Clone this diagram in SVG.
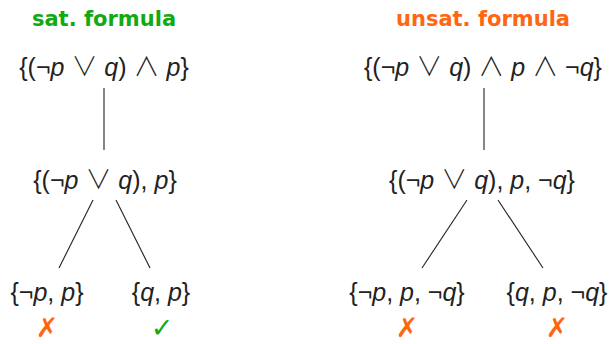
<svg xmlns="http://www.w3.org/2000/svg" width="613" height="344" viewBox="0 0 613 344">
<style>
.t{font-family:"Liberation Sans","DejaVu Sans",sans-serif;font-size:25px;fill:#222;text-anchor:middle}
.v{font-style:italic}
.op{font-family:"Noto Sans CJK SC","DejaVu Sans",sans-serif;font-size:26px;font-weight:300}
.h{font-family:"DejaVu Sans","Liberation Sans",sans-serif;font-size:21px;font-weight:bold;text-anchor:middle}
.g{fill:#11aa11}
.o{fill:#ff6611}
.m{font-family:"DejaVu Sans",sans-serif;font-size:27px;font-weight:bold;text-anchor:middle}
.e{stroke:#222;stroke-width:1.1;fill:none}
</style>
<rect width="613" height="344" fill="#fff"/>
<g id="connectors">
<line class="e" x1="104" y1="88" x2="104" y2="150"/>
<line class="e" x1="93" y1="200" x2="59" y2="268"/>
<line class="e" x1="116" y1="200" x2="150" y2="268"/>
<line class="e" x1="484" y1="88" x2="484" y2="150"/>
<line class="e" x1="467" y1="200" x2="422" y2="268"/>
<line class="e" x1="498" y1="200" x2="543" y2="268"/>
</g>
<g id="title-sat"><text class="h g" x="104" y="26">sat. formula</text></g>
<g id="title-unsat"><text class="h o" x="483" y="26">unsat. formula</text></g>
<g id="n1"><text class="t" x="104" y="76">{(¬<tspan class="v">p</tspan> <tspan class="op">∨</tspan> <tspan class="v">q</tspan>) <tspan class="op">∧</tspan> <tspan class="v">p</tspan>}</text></g>
<g id="n2"><text class="t" x="105" y="189">{(¬<tspan class="v">p</tspan> <tspan class="op">∨</tspan> <tspan class="v">q</tspan>), <tspan class="v">p</tspan>}</text></g>
<g id="n3"><text class="t" x="47" y="301">{¬<tspan class="v">p</tspan>, <tspan class="v">p</tspan>}</text></g>
<g id="n4"><text class="t" x="161" y="301">{<tspan class="v">q</tspan>, <tspan class="v">p</tspan>}</text></g>
<g id="m1"><text class="m o" x="47" y="337">✗</text></g>
<g id="m2"><text class="m g" x="162" y="337">✓</text></g>
<g id="n5"><text class="t" x="483" y="76">{(¬<tspan class="v">p</tspan> <tspan class="op">∨</tspan> <tspan class="v">q</tspan>) <tspan class="op">∧</tspan> <tspan class="v">p</tspan> <tspan class="op">∧</tspan> ¬<tspan class="v">q</tspan>}</text></g>
<g id="n6"><text class="t" x="482" y="189">{(¬<tspan class="v">p</tspan> <tspan class="op">∨</tspan> <tspan class="v">q</tspan>), <tspan class="v">p</tspan>, ¬<tspan class="v">q</tspan>}</text></g>
<g id="n7"><text class="t" x="407" y="301">{¬<tspan class="v">p</tspan>, <tspan class="v">p</tspan>, ¬<tspan class="v">q</tspan>}</text></g>
<g id="n8"><text class="t" x="557" y="301">{<tspan class="v">q</tspan>, <tspan class="v">p</tspan>, ¬<tspan class="v">q</tspan>}</text></g>
<g id="m3"><text class="m o" x="407" y="337">✗</text></g>
<g id="m4"><text class="m o" x="557" y="337">✗</text></g>
</svg>
